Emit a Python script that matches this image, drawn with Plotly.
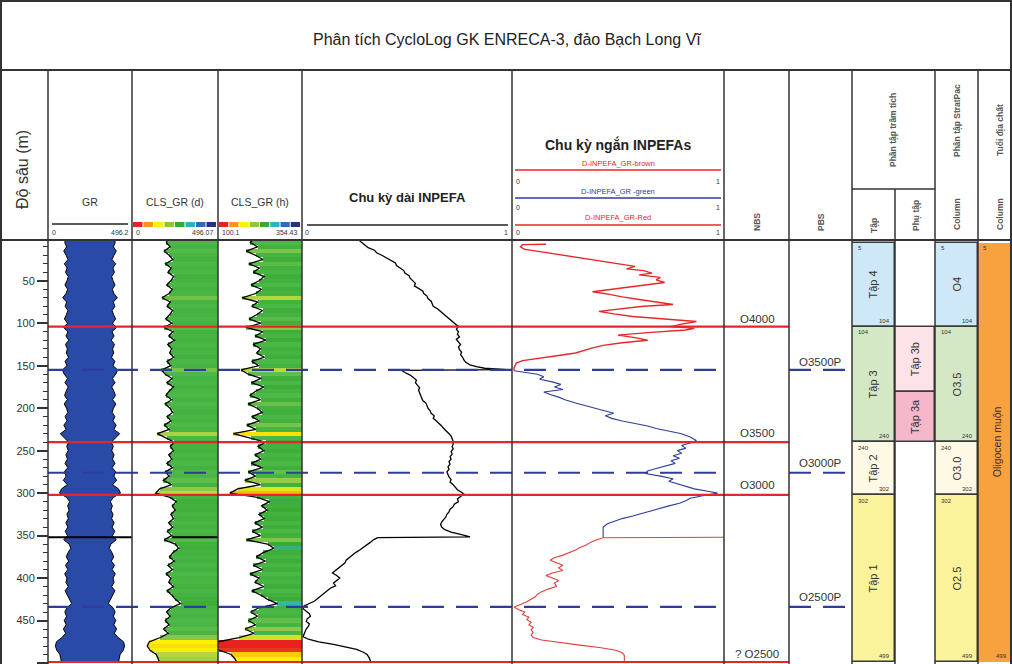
import plotly.graph_objects as go

W, H = 1012, 664


def px(x):
    return x / W


def py(y):
    return 1 - y / H


TITLE = "Phân tích CycloLog GK ENRECA-3, đảo Bạch Long Vĩ"

# ---------------- data ----------------
DEPTH = [0, 5, 10, 15, 20, 25, 30, 35, 40, 45, 50, 55, 60, 65, 70, 75, 80, 85, 90, 95, 100,
         105, 110, 115, 120, 125, 130, 135, 140, 145, 150, 155, 160, 165, 170, 175, 180, 185, 190, 195, 200,
         205, 210, 215, 220, 225, 230, 235, 240, 245, 250, 255, 260, 265, 270, 275, 280, 285, 290, 295, 300,
         305, 310, 315, 320, 325, 330, 335, 340, 345, 350, 355, 360, 365, 370, 375, 380, 385, 390, 395, 400,
         405, 410, 415, 420, 425, 430, 435, 440, 445, 450, 455, 460, 465, 470, 475, 480, 485, 490, 495, 500]
GR = [208, 198, 220, 186, 214, 236, 193, 226, 207, 240, 224, 200, 232, 214, 173, 221, 202, 235, 217, 194, 230,
      184, 236, 212, 245, 206, 229, 217, 241, 202, 224, 170, 192, 231, 201, 239, 214, 196, 229, 191, 219,
      234, 202, 225, 187, 215, 146, 199, 244, 221, 239, 212, 230, 201, 234, 192, 214, 181, 229, 160, 136,
      219, 256, 232, 249, 224, 240, 211, 235, 204, 229, 186, 250, 269, 237, 216, 244, 207, 234, 197, 224,
      212, 239, 202, 230, 250, 280, 224, 199, 220, 192, 214, 182, 209, 164, 100, 88, 104, 140, 151, 159]

GR_RANGE = [0, 496.2]
CLS_D_RANGE = [0, 496.07]
CLS_H_RANGE = [100.1, 354.43]

LONG_DEPTH = [2, 5, 8, 11, 14, 17, 20, 23, 26, 29, 32, 35, 38, 41, 44, 47, 50, 53, 56, 59, 62, 65, 68, 71, 74, 77,
              80, 83, 86, 89, 92, 95, 98, 101, 104, 107, 110, 113, 116, 119, 122, 125, 128, 131, 134, 137, 140,
              143, 146, 149, 151, 153, 154.5, 155.5, 158, 161, 164, 167, 170, 173, 176, 179, 182, 185, 188, 191,
              194, 197, 200, 203, 206, 209, 212, 215, 218, 221, 224, 227, 230, 233, 236, 239, 242, 245, 248, 251,
              254, 257, 260, 263, 266, 269, 272, 275, 278, 281, 284, 287, 290, 293, 296, 299, 301, 304, 307, 310,
              313, 316, 319, 322, 325, 328, 331, 334, 337, 340, 343, 346, 349, 351.5, 352.5, 355, 358, 361, 364,
              367, 370, 373, 376, 379, 382, 385, 388, 391, 394, 397, 400, 403, 406, 409, 412, 415, 418, 421, 424,
              427, 430, 433, 436, 439, 442, 445, 448, 451, 454, 457, 460, 463, 466, 469, 472, 475, 478, 481, 484,
              487, 490, 494, 500]
LONG_VAL = [0.27, 0.285, 0.30, 0.315, 0.345, 0.355, 0.38, 0.40, 0.425, 0.445, 0.45, 0.47, 0.485, 0.49, 0.51,
            0.515, 0.53, 0.54, 0.535, 0.555, 0.575, 0.58, 0.595, 0.60, 0.615, 0.62, 0.625, 0.645, 0.66, 0.675,
            0.685, 0.70, 0.715, 0.73, 0.745, 0.735, 0.745, 0.74, 0.75, 0.735, 0.745, 0.755, 0.745, 0.75, 0.76,
            0.755, 0.765, 0.77, 0.78, 0.80, 0.83, 0.87, 0.975, 0.475, 0.49, 0.515, 0.53, 0.545, 0.54, 0.55,
            0.56, 0.555, 0.56, 0.565, 0.57, 0.575, 0.59, 0.595, 0.60, 0.61, 0.615, 0.63, 0.625, 0.64, 0.655,
            0.665, 0.675, 0.69, 0.70, 0.71, 0.715, 0.72, 0.72, 0.715, 0.72, 0.71, 0.715, 0.705, 0.71, 0.70,
            0.705, 0.695, 0.70, 0.69, 0.695, 0.70, 0.71, 0.705, 0.72, 0.73, 0.74, 0.76, 0.77, 0.755, 0.74,
            0.745, 0.725, 0.72, 0.705, 0.70, 0.69, 0.685, 0.675, 0.665, 0.66, 0.665, 0.68, 0.71, 0.76, 0.80,
            0.36, 0.34, 0.325, 0.31, 0.29, 0.275, 0.255, 0.24, 0.225, 0.21, 0.205, 0.19, 0.175, 0.16, 0.145,
            0.165, 0.18, 0.165, 0.15, 0.16, 0.135, 0.12, 0.105, 0.09, 0.075, 0.06, 0.035, 0.01, 0.005, 0.02,
            0.035, 0.04, 0.025, 0.02, 0.035, 0.03, 0.02, 0.015, 0.01, 0.005, 0.03, 0.08, 0.15, 0.21, 0.26,
            0.29, 0.31, 0.32, 0.33]

BROWN_DEPTH = [7, 7.5, 10, 13, 16, 19, 22, 25, 28, 31, 33, 36, 38, 41, 43, 46, 49, 52, 55, 57, 60, 63, 66, 69,
               72, 75, 78, 80, 83, 86, 89, 92, 95, 98, 101, 104, 106, 108, 111, 114, 117, 120, 123, 126, 129,
               132, 135, 138, 141, 144, 147, 152, 156]
BROWN_VAL = [0.16, 0.05, 0.04, 0.06, 0.14, 0.22, 0.30, 0.38, 0.44, 0.52, 0.58, 0.54, 0.62, 0.66, 0.60, 0.70,
             0.68, 0.72, 0.62, 0.57, 0.48, 0.38, 0.46, 0.52, 0.60, 0.68, 0.76, 0.62, 0.50, 0.41, 0.48, 0.57,
             0.72, 0.87, 0.80, 0.75, 0.86, 0.82, 0.64, 0.50, 0.58, 0.64, 0.52, 0.43, 0.38, 0.34, 0.30, 0.22,
             0.12, 0.05, 0.02, 0.01, 0.01]

GREEN_DEPTH = [156, 158, 160, 163, 166, 169, 172, 175, 178, 181, 184, 187, 190, 194, 198, 202, 206, 209, 212,
               215, 218, 221, 224, 227, 230, 234, 238, 241, 244, 247, 250, 253, 256, 259, 262, 265, 268, 271,
               274, 277, 280, 283, 286, 289, 292, 295, 298, 300, 303, 306, 309, 312, 315, 318, 321, 324, 327,
               330, 333, 336, 340, 344, 348, 352]
GREEN_VAL = [0.01, 0.06, 0.12, 0.15, 0.13, 0.19, 0.23, 0.20, 0.24, 0.15, 0.18, 0.22, 0.25, 0.30, 0.36, 0.42,
             0.48, 0.44, 0.47, 0.52, 0.58, 0.64, 0.68, 0.74, 0.80, 0.84, 0.87, 0.84, 0.80, 0.82, 0.78, 0.80,
             0.76, 0.79, 0.75, 0.77, 0.72, 0.68, 0.64, 0.63, 0.70, 0.76, 0.74, 0.78, 0.82, 0.86, 0.93, 0.97,
             0.90, 0.84, 0.82, 0.79, 0.74, 0.70, 0.65, 0.62, 0.57, 0.52, 0.48, 0.45, 0.43, 0.43, 0.43, 0.43]

RED_DEPTH = [352, 352.5, 355, 358, 361, 364, 367, 370, 373, 376, 379, 382, 385, 388, 391, 394, 397, 400, 403,
             406, 410, 413, 416, 419, 422, 425, 428, 431, 434, 437, 440, 443, 446, 449, 452, 455, 458, 461,
             464, 467, 470, 473, 476, 479, 482, 485, 488, 491, 495, 500]
RED_VAL = [1.0, 0.43, 0.40, 0.37, 0.35, 0.32, 0.30, 0.27, 0.24, 0.20, 0.18, 0.21, 0.24, 0.22, 0.24, 0.19,
           0.16, 0.19, 0.22, 0.20, 0.21, 0.17, 0.14, 0.12, 0.11, 0.09, 0.07, 0.04, 0.01, 0.03, 0.06, 0.05,
           0.08, 0.07, 0.09, 0.08, 0.10, 0.09, 0.10, 0.09, 0.10, 0.14, 0.22, 0.32, 0.42, 0.49, 0.52, 0.53,
           0.53, 0.53]

RED_MARKS = [104, 240, 302, 499]
BLUE_MARKS = [155, 276, 434]
BLACK_MARKS = [352]

NBS_LABELS = ["O4000", "O3500", "O3000", "? O2500"]
NBS_DEPTHS = [95, 229, 290, 489]
PBS_LABELS = ["O3500P", "O3000P", "O2500P"]
PBS_DEPTHS = [146, 265, 422]

TAP_NAMES = ["Tập 4", "Tập 3", "Tập 2", "Tập 1"]
STRAT_NAMES = ["O4", "O3.5", "O3.0", "O2.5"]
UNIT_TOP = [5, 104, 240, 302]
UNIT_BASE = [104, 240, 302, 499]
UNIT_COLORS = ["#cfe8f7", "#d5e8c6", "#fdf9e4", "#faf39c"]

SUB_NAMES = ["Tập 3b", "Tập 3a"]
SUB_TOP = [104, 181]
SUB_BASE = [181, 240]
SUB_COLORS = ["#fbe3e7", "#f5b8ca"]

AGE_NAME = "Oligocen muộn"
AGE_TOP = [5]
AGE_BASE = [499]

RAINBOW = [[0.0, "#e8231f"], [0.1, "#f7941d"], [0.2, "#fff200"], [0.3, "#a6d04a"], [0.38, "#4cb848"],
           [0.6, "#3aaa35"], [0.7, "#36b6a8"], [0.8, "#29a9d6"], [0.9, "#2e6db4"], [1.0, "#2b2f87"]]
STRIP_COLORS = ["#e8231f", "#f7941d", "#fff200", "#8dc63f", "#3aaa35", "#2bb3c0", "#2e6db4", "#2b2f87"]

FONT = "Liberation Sans"
DARK = "#333333"
RED = "#e8262a"
BLUE = "#2f3c9c"

# ---------------- figure ----------------
fig = go.Figure()

cols = {
    "x": (48, 90), "x2": (90, 132), "x3": (132, 218), "x4": (218, 302),
    "x5": (302, 512), "x6": (512, 724), "x7": (852, 895), "x8": (895, 935),
    "x9": (935, 978), "x10": (978, 1011),
}
ranges = {
    "x": GR_RANGE, "x2": GR_RANGE[::-1], "x3": CLS_D_RANGE, "x4": CLS_H_RANGE,
    "x5": [0, 1], "x6": [0, 1], "x7": [0, 1], "x8": [0, 1], "x9": [0, 1], "x10": [0, 1],
}

# GR mirror log (white outside, blue core)
for ax in ["x", "x2"]:
    fig.add_trace(go.Scatter(x=GR, y=DEPTH, mode="lines", fill="tozerox", fillcolor="white",
                             line=dict(color="black", width=1), xaxis=ax, yaxis="y",
                             hoverinfo="skip"))

# CLS_GR (d)
fig.add_trace(go.Bar(orientation="h", y=DEPTH, base=GR, x=[CLS_D_RANGE[1] - g for g in GR], width=5,
                     marker=dict(color=GR, colorscale=RAINBOW, cmin=CLS_D_RANGE[0], cmax=CLS_D_RANGE[1],
                                 line=dict(width=0)),
                     xaxis="x3", yaxis="y", hoverinfo="skip"))
fig.add_trace(go.Scatter(x=GR, y=DEPTH, mode="lines", line=dict(color="black", width=1.3),
                         xaxis="x3", yaxis="y", hoverinfo="skip"))
# CLS_GR (h)
fig.add_trace(go.Bar(orientation="h", y=DEPTH, base=GR, x=[CLS_H_RANGE[1] - g for g in GR], width=5,
                     marker=dict(color=GR, colorscale=RAINBOW, cmin=CLS_H_RANGE[0], cmax=CLS_H_RANGE[1],
                                 line=dict(width=0)),
                     xaxis="x4", yaxis="y", hoverinfo="skip"))
fig.add_trace(go.Scatter(x=GR, y=DEPTH, mode="lines", line=dict(color="black", width=1.3),
                         xaxis="x4", yaxis="y", hoverinfo="skip"))

# long INPEFA
fig.add_trace(go.Scatter(x=LONG_VAL, y=LONG_DEPTH, mode="lines", line=dict(color="black", width=1.3),
                         xaxis="x5", yaxis="y", hoverinfo="skip"))
# short INPEFAs
fig.add_trace(go.Scatter(x=BROWN_VAL, y=BROWN_DEPTH, mode="lines", line=dict(color=RED, width=1.4),
                         xaxis="x6", yaxis="y", hoverinfo="skip"))
fig.add_trace(go.Scatter(x=GREEN_VAL, y=GREEN_DEPTH, mode="lines", line=dict(color=BLUE, width=1.1),
                         xaxis="x6", yaxis="y", hoverinfo="skip"))
fig.add_trace(go.Scatter(x=RED_VAL, y=RED_DEPTH, mode="lines", line=dict(color="#e0413a", width=1.1),
                         xaxis="x6", yaxis="y", hoverinfo="skip"))

# unit boxes
box_line = dict(color="#3a3a3a", width=1.5)
fig.add_trace(go.Bar(x=[0.5] * 4, y=[b - t for t, b in zip(UNIT_TOP, UNIT_BASE)], base=UNIT_TOP, width=1,
                     marker=dict(color=UNIT_COLORS, line=box_line), xaxis="x7", yaxis="y",
                     hoverinfo="skip"))
fig.add_trace(go.Bar(x=[0.5] * 2, y=[b - t for t, b in zip(SUB_TOP, SUB_BASE)], base=SUB_TOP, width=1,
                     marker=dict(color=SUB_COLORS, line=box_line), xaxis="x8", yaxis="y",
                     hoverinfo="skip"))
fig.add_trace(go.Bar(x=[0.5] * 4, y=[b - t for t, b in zip(UNIT_TOP, UNIT_BASE)], base=UNIT_TOP, width=1,
                     marker=dict(color=UNIT_COLORS, line=box_line), xaxis="x9", yaxis="y",
                     hoverinfo="skip"))
fig.add_trace(go.Bar(x=[0.5], y=[b - t for t, b in zip(AGE_TOP, AGE_BASE)], base=AGE_TOP, width=1,
                     marker=dict(color="#f8a13f", line=dict(width=0)), xaxis="x10", yaxis="y",
                     hoverinfo="skip"))

layout = dict(
    width=W, height=H, margin=dict(l=0, r=0, t=0, b=0),
    paper_bgcolor="white", plot_bgcolor="rgba(0,0,0,0)",
    showlegend=False, barmode="overlay", bargap=0,
    font=dict(family=FONT, color=DARK),
    yaxis=dict(domain=[py(663), py(240)], range=[500, 2], anchor="free", position=px(48),
               showgrid=False, zeroline=False, showline=False,
               ticks="outside", ticklen=11, tickwidth=1.5, tickcolor=DARK, dtick=50, tick0=0,
               tickfont=dict(size=11, color=DARK, family=FONT),
               minor=dict(dtick=10, ticks="outside", ticklen=5, tickwidth=1.2, tickcolor=DARK)),
)
for ax, (a, b) in cols.items():
    key = "xaxis" if ax == "x" else "xaxis" + ax[1:]
    layout[key] = dict(domain=[px(a), px(b)], range=ranges[ax], anchor="y", visible=False,
                       showgrid=False, zeroline=False, fixedrange=True)
fig.update_layout(**layout)

shapes = []
shapes.append(dict(type="rect", xref="paper", yref="y", x0=px(48), x1=px(132), y0=2, y1=500,
                   fillcolor="#2a4aa8", line=dict(width=0), layer="below"))

for d in RED_MARKS:
    shapes.append(dict(type="line", xref="paper", yref="y", x0=px(48), x1=px(789), y0=d, y1=d,
                       line=dict(color=RED, width=2.2)))
for d in BLUE_MARKS:
    shapes.append(dict(type="line", xref="paper", yref="y", x0=px(48), x1=px(724), y0=d, y1=d,
                       line=dict(color=BLUE, width=2.2, dash="22px,12px")))
    shapes.append(dict(type="line", xref="paper", yref="y", x0=px(789), x1=px(846), y0=d, y1=d,
                       line=dict(color=BLUE, width=2.2, dash="22px,12px")))
for d in BLACK_MARKS:
    shapes.append(dict(type="line", xref="paper", yref="y", x0=px(48), x1=px(132), y0=d, y1=d,
                       line=dict(color="black", width=2)))
    shapes.append(dict(type="line", xref="x3", yref="y", x0=GR[DEPTH.index(350)], x1=CLS_D_RANGE[1],
                       y0=d, y1=d, line=dict(color="black", width=2)))


def hline(y, x0, x1, w=1.5):
    shapes.append(dict(type="line", xref="paper", yref="paper", x0=px(x0), x1=px(x1), y0=py(y), y1=py(y),
                       line=dict(color=DARK, width=w)))


def vline(x, y0, y1, w=1.5):
    shapes.append(dict(type="line", xref="paper", yref="paper", x0=px(x), x1=px(x), y0=py(y0), y1=py(y1),
                       line=dict(color=DARK, width=w)))


hline(1, 0, 1012, 2)
hline(70, 0, 1012, 2)
hline(240, 0, 1012, 2)
hline(189, 852, 935, 1.5)
vline(1, 0, 664, 2)
vline(1011, 0, 664, 2)
for x in [48, 132, 218, 302, 512, 724, 789, 852, 935, 978]:
    vline(x, 70, 664, 1.5)
vline(895, 189, 664, 1.5)

shapes.append(dict(type="line", xref="paper", yref="paper", x0=px(52), x1=px(128), y0=py(224), y1=py(224),
                   line=dict(color="#222", width=1.5)))
shapes.append(dict(type="line", xref="paper", yref="paper", x0=px(307), x1=px(508), y0=py(225), y1=py(225),
                   line=dict(color="#222", width=1.5)))
for yy, c in [(170, RED), (198, BLUE), (225, RED)]:
    shapes.append(dict(type="line", xref="paper", yref="paper", x0=px(515), x1=px(721), y0=py(yy), y1=py(yy),
                       line=dict(color=c, width=1.3)))

for (a, b) in [(133, 217), (219, 301)]:
    n = len(STRIP_COLORS)
    seg = (b - a) / n
    for i, c in enumerate(STRIP_COLORS):
        shapes.append(dict(type="rect", xref="paper", yref="paper", x0=px(a + i * seg), x1=px(a + (i + 1) * seg - 1),
                           y0=py(227), y1=py(222), fillcolor=c, line=dict(width=0)))

fig.update_layout(shapes=shapes)

ann = []


def text(t, x, y, size=10, color=DARK, angle=0, xanchor="center", yanchor="middle", yref="paper", xref="paper"):
    ann.append(dict(text=t, x=x, y=y, xref=xref, yref=yref, showarrow=False, textangle=angle,
                    xanchor=xanchor, yanchor=yanchor, font=dict(size=size, color=color, family=FONT)))


text(TITLE, px(507), py(40), size=16, color="#222")
text("Độ sâu (m)", px(22), py(170), size=16, angle=-90)
text("GR", px(90), py(202), size=10.5)
text("CLS_GR (d)", px(175), py(202), size=10.5)
text("CLS_GR (h)", px(260), py(202), size=10.5)
text("<b>Chu kỳ dài INPEFA</b>", px(407), py(198), size=13, color="#222")
text("<b>Chu kỳ ngắn INPEFAs</b>", px(618), py(144), size=14, color="#222")
text("D-INPEFA_GR-brown", px(618), py(164), size=7.5, color=RED)
text("D-INPEFA_GR -green", px(618), py(191), size=7.5, color=BLUE)
text("D-INPEFA_GR-Red", px(618), py(218), size=7.5, color=RED)
for yy in [181, 207, 233]:
    text("0", px(514), py(yy), size=7, xanchor="left")
    text("1", px(722), py(yy), size=7, xanchor="right")
text("0", px(50), py(233), size=7, xanchor="left")
text(f"{GR_RANGE[1]}", px(131), py(233), size=7, xanchor="right")
text("0", px(134), py(233), size=7, xanchor="left")
text(f"{CLS_D_RANGE[1]}", px(216), py(233), size=7, xanchor="right")
text(f"{CLS_H_RANGE[0]}", px(220), py(233), size=7, xanchor="left")
text(f"{CLS_H_RANGE[1]}", px(300), py(233), size=7, xanchor="right")
text("0", px(303), py(233), size=7, xanchor="left")
text("1", px(510), py(233), size=7, xanchor="right")
text("<b>NBS</b>", px(757), py(222), size=8.5, angle=-90, color="#555")
text("<b>PBS</b>", px(821), py(222), size=8.5, angle=-90, color="#555")
text("<b>Phần tập trầm tích</b>", px(893), py(130), size=8.5, angle=-90, color="#555")
text("<b>Tập</b>", px(874), py(226), size=8.5, angle=-90, color="#555")
text("<b>Phụ tập</b>", px(916), py(216), size=8.5, angle=-90, color="#555")
text("<b>Phân tập StratPac</b>", px(957), py(121), size=8.5, angle=-90, color="#555")
text("<b>Column</b>", px(957), py(214), size=8.5, angle=-90, color="#555")
text("<b>Tuổi địa chất</b>", px(1000), py(130), size=8.5, angle=-90, color="#555")
text("<b>Column</b>", px(1000), py(214), size=8.5, angle=-90, color="#555")

for lab, d in zip(NBS_LABELS, NBS_DEPTHS):
    text(lab, px(757), d, size=11.5, yref="y")
for lab, d in zip(PBS_LABELS, PBS_DEPTHS):
    text(lab, px(820), d, size=11.5, yref="y")

for names, xc, x0, x1 in [(TAP_NAMES, 873, 856, 892), (STRAT_NAMES, 957, 939, 975)]:
    for nm, t, b in zip(names, UNIT_TOP, UNIT_BASE):
        text(nm, px(xc), (t + b) / 2, size=11, angle=-90, yref="y")
        text(str(t), px(x0), t + 1, size=6, xanchor="left", yanchor="top", yref="y")
        text(str(b), px(x1), b - 1, size=6, xanchor="right", yanchor="bottom", yref="y")
for nm, t, b in zip(SUB_NAMES, SUB_TOP, SUB_BASE):
    text(nm, px(915), (t + b) / 2, size=11, angle=-90, yref="y")
text(AGE_NAME, px(997), 240, size=10.5, angle=-90, yref="y")
text(str(AGE_TOP[0]), px(981), AGE_TOP[0] + 1, size=6, xanchor="left", yanchor="top", yref="y")
text(str(AGE_BASE[0]), px(1009), AGE_BASE[0] - 1, size=6, xanchor="right", yanchor="bottom", yref="y")

fig.update_layout(annotations=ann)

fig.write_html("out.html", config={"displayModeBar": False},
               post_script="document.body.style.margin='0';document.body.style.overflow='hidden';")
